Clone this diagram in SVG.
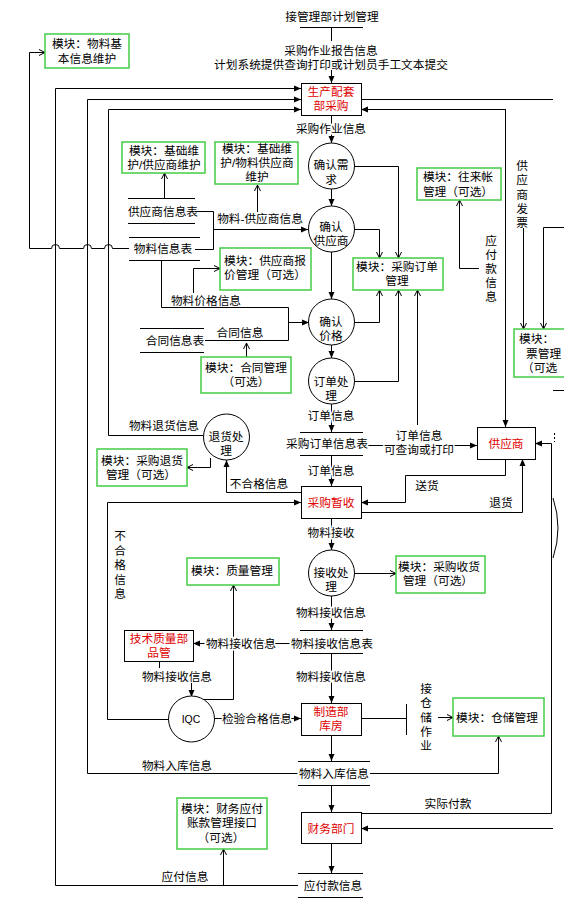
<svg xmlns="http://www.w3.org/2000/svg" width="564" height="898" viewBox="0 0 564 898">
<style>
text{font-family:"Liberation Sans","Noto Sans CJK SC",sans-serif;font-size:11.7px;fill:#000;text-anchor:middle;dominant-baseline:central}
.r{fill:#e00000}
.s{text-anchor:start}
.on{stroke:#fff;stroke-width:3;paint-order:stroke}
.mod rect{fill:#fff;stroke:#44cc44;stroke-width:1.5}
.ent rect{fill:#fff;stroke:#000;stroke-width:1}
.proc circle{fill:#fff;stroke:#000;stroke-width:1}
.ds line{stroke:#000;stroke-width:1}
#conn path{fill:none;stroke:#000;stroke-width:1}
.f{marker-end:url(#af)}
.o{marker-end:url(#ao)}
</style>
<defs>
<marker id="af" viewBox="0 0 7 7" refX="7" refY="3.5" markerWidth="7" markerHeight="7" orient="auto" markerUnits="userSpaceOnUse"><path d="M0,0.5 L7,3.5 L0,6.5 z" fill="#000"/></marker>
<marker id="ao" viewBox="0 0 7 7" refX="6.5" refY="3.5" markerWidth="7" markerHeight="7" orient="auto" markerUnits="userSpaceOnUse"><path d="M0.5,0.5 L6.5,3.5 L0.5,6.5" fill="none" stroke="#000" stroke-width="1"/></marker>
</defs>
<rect width="564" height="898" fill="#fff"/>

<g id="conn">
<path d="M300,27.5H363"/>
<path d="M331.5,27V41"/>
<path class="f" d="M331.5,70V83"/>
<path class="f" d="M331.5,115V143"/>
<path class="f" d="M331.5,189V206"/>
<path class="f" d="M331.5,252V299"/>
<path class="f" d="M331.5,345V358"/>
<path class="f" d="M331.5,404V432"/>
<path class="f" d="M331.5,455V486"/>
<path class="f" d="M331.5,518V550"/>
<path class="f" d="M331.5,596V630"/>
<path class="f" d="M331.5,653V703"/>
<path class="f" d="M331.5,735V761"/>
<path class="f" d="M331.5,785V812"/>
<path class="f" d="M331.5,843V873"/>
<path class="f" d="M298,885.5H55.5V88.5H301"/>
<path class="o" d="M223.5,885V849"/>
<path class="f" d="M298,773.5H87.5V99.5H301"/>
<path class="o" d="M370,773.5H498.5V736"/>
<path class="f" d="M203,435.5H108.5V109.5H301"/>
<path class="o" d="M129,248.5H112.5a4,4 0 0 0 -8,0H91.5a4,4 0 0 0 -8,0H59.5a4,4 0 0 0 -8,0H29.5V52.5H45"/>
<path class="o" d="M164.5,198V173"/>
<path d="M195,211.5H213.5V249.5H195"/>
<path class="f" d="M213,229.5H308"/>
<path class="o" d="M257.5,212V185"/>
<path d="M161.5,260V307.5H288.5V340.5H205"/>
<path class="f" d="M288,322.5H309"/>
<path class="o" d="M193.5,293V268.5H220"/>
<path class="o" d="M246.5,357V343"/>
<path class="o" d="M354,166.5H398.5V258"/>
<path class="o" d="M354,229.5H379.5V258"/>
<path class="o" d="M355,322.5H379.5V290"/>
<path class="o" d="M355,381.5H398.5V290"/>
<path class="f" d="M368,445.5H477"/>
<path class="o" d="M417.5,425V290"/>
<path class="o" d="M479,268.5H459.5V200"/>
<path d="M361,99.5H553"/>
<path class="f" d="M505.5,109V427"/>
<path class="f" d="M506,109.5H361"/>
<path class="o" d="M523.5,228V329"/>
<path class="o" d="M564,227.5H543.5V329"/>
<path class="f" d="M505.5,459V475.5H405.5V502.5H361"/>
<path class="f" d="M361,512.5H522.5V459"/>
<path class="f" d="M301,492.5H226.5V460"/>
<path class="f" d="M168,719.5H107.5V502.5H301"/>
<path class="o" d="M210.5,458V467.5H187"/>
<path class="o" d="M355,573.5H396"/>
<path class="f" d="M300,643.5H193"/>
<path d="M159.5,661V668"/>
<path class="f" d="M191.5,683V697"/>
<path class="o" d="M202,699.5H233.5V585"/>
<path class="f" d="M214,718.5H301"/>
<path d="M361,718.5H406.5"/>
<path d="M406.5,704V735"/>
<path class="o" d="M438,717.5H453"/>
<path class="f" d="M361,813.5H551.5V443.5H535"/>
<path class="f" d="M553,828.5H361"/>
<path d="M553,498Q563,528 553,558"/>
<path d="M554.5,433V442" stroke-dasharray="2,2"/>
<path d="M553,342.5H564"/>
<path d="M553,390.5H564"/>
</g>

<g id="ds-plan"><text x="332" y="16">接管理部计划管理</text></g>
<g id="ds-supplier" class="ds"><line x1="128" y1="198.5" x2="195" y2="198.5"/><line x1="128" y1="223.5" x2="195" y2="223.5"/><text x="163" y="211">供应商信息表</text></g>
<g id="ds-material" class="ds"><line x1="129" y1="237.5" x2="200" y2="237.5"/><line x1="129" y1="260.5" x2="200" y2="260.5"/><text x="163" y="248">物料信息表</text></g>
<g id="ds-contract" class="ds"><line x1="140" y1="328.5" x2="204" y2="328.5"/><line x1="140" y1="352.5" x2="204" y2="352.5"/><text x="175" y="340">合同信息表</text></g>
<g id="ds-order" class="ds"><line x1="300" y1="432.5" x2="363" y2="432.5"/><line x1="300" y1="455.5" x2="363" y2="455.5"/><text x="327" y="443" class="on">采购订单信息表</text></g>
<g id="ds-receive" class="ds"><line x1="300" y1="630.5" x2="363" y2="630.5"/><line x1="300" y1="653.5" x2="363" y2="653.5"/><text x="332" y="643" class="on">物料接收信息表</text></g>
<g id="ds-instock" class="ds"><line x1="298" y1="761.5" x2="370" y2="761.5"/><line x1="298" y1="785.5" x2="370" y2="785.5"/><text x="334" y="773" class="on">物料入库信息</text></g>
<g id="ds-payable" class="ds"><line x1="298" y1="873.5" x2="363" y2="873.5"/><line x1="298" y1="897.5" x2="363" y2="897.5"/><text x="333" y="885" class="on">应付款信息</text></g>

<g id="n-purchase" class="ent"><rect x="301.5" y="83.5" width="60" height="32"/><text class="r" x="331" y="91">生产配套<tspan x="331" dy="14">部采购</tspan></text></g>
<g id="n-supplier" class="ent"><rect x="477.5" y="427.5" width="58" height="32"/><text class="r" x="506" y="443">供应商</text></g>
<g id="n-tempreceive" class="ent"><rect x="301.5" y="486.5" width="60" height="32"/><text class="r" x="331" y="502">采购暂收</text></g>
<g id="n-quality" class="ent"><rect x="124.5" y="630.5" width="69" height="31"/><text class="r" x="159" y="638">技术质量部<tspan x="159" dy="14">品管</tspan></text></g>
<g id="n-warehouse" class="ent"><rect x="301.5" y="703.5" width="60" height="32"/><text class="r" x="331" y="711">制造部<tspan x="331" dy="14">库房</tspan></text></g>
<g id="n-finance" class="ent"><rect x="301.5" y="812.5" width="60" height="31"/><text class="r" x="331" y="828">财务部门</text></g>

<g id="p-need" class="proc"><circle cx="331.5" cy="166" r="23"/><text x="331" y="164">确认需<tspan x="331" dy="15">求</tspan></text></g>
<g id="p-supplier" class="proc"><circle cx="331.5" cy="229" r="23"/><text x="331" y="226">确认<tspan x="331" dy="14">供应商</tspan></text></g>
<g id="p-price" class="proc"><circle cx="331.5" cy="322" r="23"/><text x="331" y="321">确认<tspan x="331" dy="13.5">价格</tspan></text></g>
<g id="p-order" class="proc"><circle cx="331.5" cy="381" r="23"/><text x="331" y="381">订单处<tspan x="331" dy="13.5">理</tspan></text></g>
<g id="p-return" class="proc"><circle cx="226.5" cy="437" r="23"/><text x="226" y="436">退货处<tspan x="226" dy="14">理</tspan></text></g>
<g id="p-receive" class="proc"><circle cx="331.5" cy="573" r="23"/><text x="331" y="572">接收处<tspan x="331" dy="14">理</tspan></text></g>
<g id="p-iqc" class="proc"><circle cx="191.5" cy="719" r="23"/><text x="191" y="719" style="font-size:10.5px">IQC</text></g>

<g id="m-material" class="mod"><rect x="45" y="34" width="84" height="34"/><text x="87" y="43">模块：物料基<tspan x="87" dy="15">本信息维护</tspan></text></g>
<g id="m-basic1" class="mod"><rect x="122" y="142" width="83" height="31"/><text x="164" y="150">模块：基础维<tspan x="164" dy="14">护/供应商维护</tspan></text></g>
<g id="m-basic2" class="mod"><rect x="215" y="142" width="83" height="42"/><text x="257" y="148">模块：基础维<tspan x="257" dy="14">护/物料供应商</tspan><tspan x="257" dy="14">维护</tspan></text></g>
<g id="m-account" class="mod"><rect x="417" y="168" width="84" height="32"/><text x="458" y="176">模块：往来帐<tspan x="458" dy="15">管理（可选）</tspan></text></g>
<g id="m-quote" class="mod"><rect x="220" y="248" width="91" height="42"/><text x="265" y="260">模块：供应商报<tspan x="265" dy="14">价管理（可选）</tspan></text></g>
<g id="m-order" class="mod"><rect x="353" y="258" width="90" height="32"/><text x="397" y="266">模块：采购订单<tspan x="397" dy="13.5">管理</tspan></text></g>
<g id="m-invoice" class="mod"><rect x="514" y="329" width="90" height="48"/><text class="s" x="519" y="338">模块：<tspan x="526" dy="15">票管理</tspan><tspan x="522" dy="14">（可选</tspan></text></g>
<g id="m-contract" class="mod"><rect x="201" y="357" width="90" height="36"/><text x="246" y="367">模块：合同管理<tspan x="246" dy="14">（可选）</tspan></text></g>
<g id="m-return" class="mod"><rect x="97" y="449" width="90" height="37"/><text x="142" y="460">模块：采购退货<tspan x="141" dy="14">管理（可选）</tspan></text></g>
<g id="m-qm" class="mod"><rect x="187" y="558" width="92" height="27"/><text x="232" y="570">模块：质量管理</text></g>
<g id="m-receive" class="mod"><rect x="396" y="556" width="89" height="37"/><text x="439" y="566">模块：采购收货<tspan x="438" dy="14">管理（可选）</tspan></text></g>
<g id="m-store" class="mod"><rect x="453" y="698" width="91" height="38"/><text x="497" y="717">模块：仓储管理</text></g>
<g id="m-finance" class="mod"><rect x="177" y="798" width="90" height="51"/><text x="222" y="808">模块：财务应付<tspan x="222" dy="14">账款管理接口</tspan><tspan x="221" dy="15">（可选）</tspan></text></g>

<g id="labels">
<text x="331" y="50">采购作业报告信息<tspan x="331" dy="13.5">计划系统提供查询打印或计划员手工文本提交</tspan></text>
<text x="331" y="128" class="on">采购作业信息</text>
<text x="260" y="218">物料-供应商信息</text>
<text x="206" y="300">物料价格信息</text>
<text x="240" y="332">合同信息</text>
<text x="331" y="415" class="on">订单信息</text>
<text x="164" y="425">物料退货信息</text>
<text x="419" y="435" class="on">订单信息<tspan x="419" dy="13.5">可查询或打印</tspan></text>
<text x="331" y="470" class="on">订单信息</text>
<text x="259" y="483">不合格信息</text>
<text x="427" y="485">送货</text>
<text x="501" y="502">退货</text>
<text x="331" y="532" class="on">物料接收</text>
<text x="331" y="612" class="on">物料接收信息</text>
<text x="241" y="643" class="on">物料接收信息</text>
<text x="177" y="676">物料接收信息</text>
<text x="331" y="676" class="on">物料接收信息</text>
<text x="257" y="718" class="on">检验合格信息</text>
<text x="177" y="765">物料入库信息</text>
<text x="448" y="803">实际付款</text>
<text x="185" y="876">应付信息</text>
<text x="120" y="535">不<tspan x="120" dy="14.5">合</tspan><tspan x="120" dy="14.5">格</tspan><tspan x="120" dy="14.5">信</tspan><tspan x="120" dy="14">息</tspan></text>
<text x="522" y="165">供<tspan x="522" dy="14.3">应</tspan><tspan x="522" dy="14.3">商</tspan><tspan x="522" dy="14.3">发</tspan><tspan x="522" dy="14.3">票</tspan></text>
<text x="491" y="240" class="on">应<tspan x="491" dy="14">付</tspan><tspan x="491" dy="14">款</tspan><tspan x="491" dy="14">信</tspan><tspan x="491" dy="14">息</tspan></text>
<text x="426" y="688">接<tspan x="426" dy="14.3">仓</tspan><tspan x="426" dy="14.3">储</tspan><tspan x="426" dy="14.3">作</tspan><tspan x="426" dy="14.3">业</tspan></text>
</g>
</svg>
